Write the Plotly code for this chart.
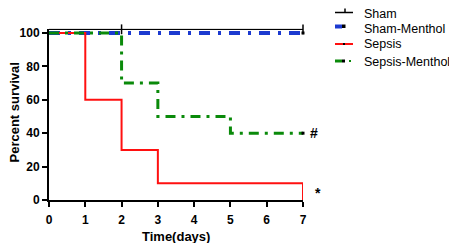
import plotly.graph_objects as go

# Data (Kaplan-Meier step values)
sham_x = [0, 7]
sham_y = [102.2, 102.2]
sham_menthol_x = [0, 7]
sham_menthol_y = [100, 100]
sepsis_x = [0, 1, 2, 3, 7, 7]
sepsis_y = [100, 60, 30, 10, 10, 0]
sepsis_menthol_x = [0, 2, 3, 5, 7]
sepsis_menthol_y = [100, 70, 50, 40, 40]
sham_censor_x = [2, 7]
sham_censor_y = [102.2, 102.2]
end_censor_x = [7, 7]
end_censor_y = [100, 40]
x_ticks = [0, 1, 2, 3, 4, 5, 6, 7]
y_ticks = [0, 20, 40, 60, 80, 100]
series_names = ["Sham", "Sham-Menthol", "Sepsis", "Sepsis-Menthol"]
series_colors = ["black", "#1c3ad0", "#ff1010", "#0a8a0a"]

FONT = "Liberation Sans, Arial, sans-serif"
W, H = 449, 235
ML, MB = 41, 43


def px(x):
    return (x - ML) / (W - ML)


def py(y):
    return (H - MB - y) / (H - MB)


fig = go.Figure()
fig.add_trace(go.Scatter(x=sham_menthol_x, y=sham_menthol_y, mode="lines", name=series_names[1],
                         line=dict(color=series_colors[1], width=4, shape="hv", dash="11px,8px,3px,8px")))
fig.add_trace(go.Scatter(x=sham_x, y=sham_y, mode="lines", name=series_names[0],
                         line=dict(color=series_colors[0], width=1.5, shape="hv")))
fig.add_trace(go.Scatter(x=sepsis_x, y=sepsis_y, mode="lines", name=series_names[2],
                         line=dict(color=series_colors[2], width=2, shape="hv")))
fig.add_trace(go.Scatter(x=sepsis_menthol_x, y=sepsis_menthol_y, mode="lines", name=series_names[3],
                         line=dict(color=series_colors[3], width=3, shape="hv", dash="10px,6px,3px,6px")))
fig.add_trace(go.Scatter(x=sham_censor_x, y=sham_censor_y, mode="markers",
                         marker=dict(symbol="line-ns", size=7, line=dict(color="black", width=1.5))))
fig.add_trace(go.Scatter(x=end_censor_x, y=end_censor_y, mode="markers",
                         marker=dict(symbol="square", size=3, color="black")))

# significance marks
fig.add_annotation(x=7, y=40, xref="x", yref="y", text="<b>#</b>", showarrow=False,
                   xshift=11, font=dict(family=FONT, size=14, color="black"))
fig.add_annotation(x=7, y=4, xref="x", yref="y", text="<b>*</b>", showarrow=False,
                   xshift=15, font=dict(family=FONT, size=14, color="black"))

# axis titles
fig.add_annotation(x=px(168), y=py(228), xref="paper", yref="paper", text="<b>Time(days)</b>",
                   xanchor="center", yanchor="middle",
                   showarrow=False, font=dict(family=FONT, size=13, color="black"))
fig.add_annotation(x=px(5.5), y=py(105), xref="paper", yref="paper", text="<b>Percent survival</b>",
                   xanchor="center", yanchor="middle",
                   showarrow=False, textangle=-90, font=dict(family=FONT, size=13, color="black"))

# legend (drawn manually)
shapes = []
rows = [(6, 4.5), (20.5, 18.5), (36.5, 36), (54, 53)]
sx0, sx1 = 327, 345
# Sham
ty, sy = rows[0]
shapes.append(dict(type="line", xref="paper", yref="paper", x0=px(sx0), x1=px(sx1), y0=py(sy), y1=py(sy),
                   line=dict(color="black", width=1.5)))
shapes.append(dict(type="line", xref="paper", yref="paper", x0=px(337), x1=px(337), y0=py(sy), y1=py(sy - 4),
                   line=dict(color="black", width=1.5)))
# Sham-Menthol
ty, sy = rows[1]
shapes.append(dict(type="line", xref="paper", yref="paper", x0=px(sx0), x1=px(334), y0=py(sy), y1=py(sy),
                   line=dict(color=series_colors[1], width=4)))
shapes.append(dict(type="rect", xref="paper", yref="paper", x0=px(334), x1=px(337.5), y0=py(sy + 1.5), y1=py(sy - 2),
                   fillcolor="black", line=dict(width=0)))
# Sepsis
ty, sy = rows[2]
shapes.append(dict(type="line", xref="paper", yref="paper", x0=px(sx0), x1=px(sx1), y0=py(sy), y1=py(sy),
                   line=dict(color=series_colors[2], width=2)))
shapes.append(dict(type="rect", xref="paper", yref="paper", x0=px(335), x1=px(337), y0=py(sy + 1), y1=py(sy - 1),
                   fillcolor="black", line=dict(width=0)))
# Sepsis-Menthol
ty, sy = rows[3]
shapes.append(dict(type="line", xref="paper", yref="paper", x0=px(sx0), x1=px(334), y0=py(sy), y1=py(sy),
                   line=dict(color=series_colors[3], width=3)))
shapes.append(dict(type="rect", xref="paper", yref="paper", x0=px(334), x1=px(337), y0=py(sy + 1.5), y1=py(sy - 1.5),
                   fillcolor="black", line=dict(width=0)))
shapes.append(dict(type="rect", xref="paper", yref="paper", x0=px(341), x1=px(343), y0=py(sy + 1), y1=py(sy - 1),
                   fillcolor=series_colors[3], line=dict(width=0)))
for name, (ty, sy) in zip(series_names, rows):
    fig.add_annotation(x=px(354), y=py(ty), xref="paper", yref="paper", text=name, showarrow=False,
                       xanchor="left", yanchor="middle", font=dict(family=FONT, size=12.5, color="black"))

fig.update_layout(
    width=W, height=H,
    margin=dict(l=ML, r=0, t=0, b=MB),
    plot_bgcolor="white", paper_bgcolor="white",
    font=dict(family=FONT, color="black"),
    showlegend=False,
    shapes=shapes,
    xaxis=dict(range=[0, 7], domain=[0, 254 / (W - ML)], tickvals=x_ticks, showgrid=False, zeroline=False,
               showline=True, linecolor="black", linewidth=2, automargin=False,
               ticks="outside", tickwidth=2, ticklen=5, tickcolor="black", ticklabelstandoff=3,
               tickfont=dict(family=FONT, size=12, weight="bold")),
    yaxis=dict(range=[0, 102.5], domain=[0, (H - MB - 20.8) / (H - MB)], tickvals=y_ticks,
               showgrid=False, zeroline=False,
               showline=True, linecolor="black", linewidth=2, automargin=False,
               ticks="outside", tickwidth=2, ticklen=5, tickcolor="black",
               tickfont=dict(family=FONT, size=12, weight="bold")),
)
fig.update_traces(cliponaxis=False)

fig.write_html("out.html")
